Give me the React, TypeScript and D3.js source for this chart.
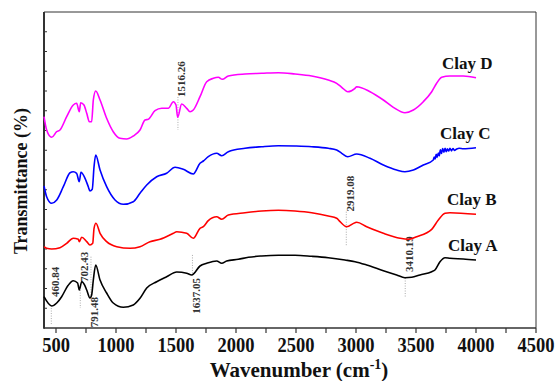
import * as d3 from "d3";

// FTIR spectra, [wavenumber, transmittance (offset, a.u.)]
const clayA: [number, number][] = [
  [400, 15.85], [464, 11.14], [506, 12.66], [547, 15.85], [600, 21.5], [644, 23.95],
  [680, 22.8], [694, 19.24], [714, 23.44], [740, 21.6], [756, 19.24], [783, 15.19],
  [797, 16.71], [811, 24.3], [831, 31.9], [867, 24.3], [922, 17.72], [977, 12.66],
  [1061, 10.48], [1144, 11.65], [1200, 15.04], [1256, 20.25], [1339, 23.44],
  [1422, 25.97], [1506, 28.35], [1589, 27.7], [1631, 26.84], [1700, 31.39],
  [1756, 32.76], [1839, 33.92], [1881, 32.76], [1922, 33.92], [2019, 34.78],
  [2103, 35.8], [2214, 36.46], [2353, 36.81], [2492, 36.81], [2631, 36.3],
  [2769, 35.59], [2908, 34.43], [2992, 33.57], [3089, 31.9], [3228, 29.01],
  [3339, 26.84], [3408, 25.47], [3464, 25.67], [3533, 26.84], [3631, 28.51],
  [3658, 29.37], [3700, 33.57], [3742, 35.59], [3783, 35.29], [3894, 34.94], [4000, 34.43],
];

const clayB: [number, number][] = [
  [400, 41.16], [422, 40.35], [464, 40.0], [533, 40.66], [589, 42.88], [644, 45.42],
  [686, 44.91], [694, 43.7], [714, 45.92], [756, 43.7], [783, 42.03], [806, 42.88],
  [817, 50.48], [833, 53.01], [867, 47.95], [922, 43.7], [1006, 41.16], [1117, 40.35],
  [1200, 41.16], [1283, 43.7], [1367, 44.91], [1478, 47.95], [1506, 48.76],
  [1589, 47.95], [1644, 45.42], [1700, 50.48], [1728, 51.29], [1769, 54.33],
  [1839, 56.35], [1881, 55.04], [1936, 57.21], [2075, 58.38], [2214, 59.24],
  [2353, 59.59], [2492, 59.24], [2631, 58.38], [2769, 56.71], [2839, 55.54],
  [2867, 53.82], [2922, 51.29], [2992, 53.32], [3006, 53.52], [3089, 51.29],
  [3228, 47.95], [3367, 45.42], [3436, 44.91], [3506, 46.23], [3631, 49.97],
  [3686, 54.68], [3742, 58.07], [3783, 58.38], [4000, 57.57],
];

const clayC: [number, number][] = [
  [400, 71.9], [422, 66.48], [464, 63.14], [506, 64.81], [561, 71.54], [617, 78.63],
  [644, 79.14], [672, 78.33], [694, 74.07], [708, 78.83], [742, 75.8], [769, 71.54],
  [783, 69.37], [802, 70.23], [817, 81.67], [831, 87.6], [867, 80.0], [922, 71.54],
  [992, 64.81], [1061, 62.63], [1144, 63.95], [1200, 68.2], [1256, 72.4], [1339, 76.61],
  [1422, 78.33], [1492, 81.37], [1561, 80.35], [1644, 77.97], [1700, 83.39],
  [1728, 84.56], [1769, 86.73], [1839, 88.45], [1881, 87.24], [1936, 89.27],
  [2075, 90.99], [2214, 91.8], [2353, 92.3], [2492, 92.15], [2631, 91.8], [2769, 90.99],
  [2839, 90.13], [2881, 88.45], [2931, 86.73], [3006, 88.1], [3117, 85.92],
  [3228, 82.53], [3339, 80.0], [3408, 79.14], [3478, 80.0], [3561, 82.53], [3644, 85.06],
  [3652, 86.6], [3660, 85.6], [3668, 87.9], [3676, 86.4], [3686, 88.6], [3694, 87.2],
  [3703, 90.2], [3712, 88.4], [3722, 90.8], [3732, 89.0], [3742, 91.0], [3752, 89.3],
  [3762, 90.7], [3772, 89.6], [3783, 91.0], [3795, 89.7], [3808, 90.9], [3820, 89.9],
  [3839, 90.6], [3860, 91.0], [3894, 90.79], [4000, 91.29],
];

const clayD: [number, number][] = [
  [400, 106.98], [422, 100.25], [464, 96.55], [506, 99.39], [533, 100.25], [589, 106.98],
  [644, 112.91], [672, 113.77], [694, 109.52], [706, 114.07], [733, 112.91], [756, 108.71],
  [778, 104.45], [797, 104.45], [811, 115.44], [831, 120.0], [867, 115.44], [922, 106.17],
  [977, 99.39], [1033, 96.05], [1089, 95.7], [1144, 97.22], [1200, 100.25], [1242, 105.32],
  [1269, 105.67], [1325, 110.02], [1381, 111.24], [1436, 111.24], [1478, 114.58],
  [1500, 112.91], [1514, 106.68], [1547, 113.42], [1589, 111.24], [1617, 109.52],
  [1644, 110.38], [1700, 117.11], [1756, 124.71], [1811, 126.43], [1853, 126.93],
  [1886, 125.92], [1936, 127.59], [2075, 128.61], [2214, 128.96], [2353, 129.27],
  [2492, 128.61], [2631, 127.59], [2769, 125.57], [2839, 123.9], [2881, 121.87],
  [2931, 119.64], [2992, 121.37], [3006, 122.18], [3117, 119.64], [3228, 115.44],
  [3311, 111.74], [3408, 109.01], [3478, 110.38], [3561, 114.58], [3631, 119.64],
  [3672, 123.9], [3714, 126.93], [3783, 127.59], [3894, 127.59], [4000, 126.73],
];

const seriesNames = ["Clay A", "Clay B", "Clay C", "Clay D"];
const xTicks = [500, 1000, 1500, 2000, 2500, 3000, 3500, 4000, 4500];

// peak labels: wavenumber, dotted line span (y units), where the label starts
const peakWn = [460.84, 702.43, 791.48, 1516.26, 1637.05, 2919.08, 3410.19];
const peakLine: [number, number][] = [
  [10.1, 1.5], [19.2, 10.1], [36.1, 15.8], [117.0, 100.3], [37.0, 27.8], [58.9, 41.2], [25.3, 15.2],
];
const peakLabelAt = [15.7, 23.3, 15.7, 117.0, 25.3, 59.0, 28.4];
const peakBelow = [false, false, true, false, true, false, false];

const W = 557;
const H = 381;
const FONT = "'Liberation Serif', 'Times New Roman', serif";

const seriesStyle = [
  { data: clayA, color: "#000000", dx: -28 },
  { data: clayB, color: "#ff0000", dx: -29 },
  { data: clayC, color: "#0000ff", dx: -36 },
  { data: clayD, color: "#ff00ff", dx: -34 },
];

export default function App() {
  const x = d3.scaleLinear().domain([400, 4500]).range([44, 536]);
  const y = d3.scaleLinear().domain([0, 160]).range([328, 12]);

  const line = d3
    .line<[number, number]>()
    .x((d) => x(d[0]))
    .y((d) => y(d[1]))
    .curve(d3.curveMonotoneX);

  const minorTicks = d3.range(500, 4501, 250);
  const leftTicks = d3.range(10, 160, 10);

  return (
    <svg
      width={W}
      height={H}
      style={{ position: "absolute", left: 0, top: 0, background: "#fff" }}
      fontFamily={FONT}
    >
      {/* frame */}
      <line x1={x(400)} x2={x(4500)} y1={y(160)} y2={y(160)} stroke="#333" strokeWidth={1} />
      <line x1={x(4500)} x2={x(4500)} y1={y(160)} y2={y(0)} stroke="#333" strokeWidth={1} />

      {/* left ticks (inward) */}
      {leftTicks.map((t) => (
        <line key={t} x1={x(400)} x2={x(400) + 3} y1={y(t)} y2={y(t)} stroke="#333" strokeWidth={1} />
      ))}

      {/* bottom ticks */}
      {minorTicks.map((t) => (
        <line key={t} x1={x(t)} x2={x(t)} y1={y(0)} y2={y(0) + 5} stroke="#333" strokeWidth={1.2} />
      ))}
      {xTicks.map((t) => (
        <text
          key={t}
          transform={`translate(${x(t)},352) scale(1,1.15)`}
          textAnchor="middle"
          fontSize={18.5}
          fontWeight="bold"
          fill="#111"
        >
          {t}
        </text>
      ))}

      <line x1={x(400)} x2={x(4500)} y1={y(0)} y2={y(0)} stroke="#333" strokeWidth={1.5} />
      <line x1={x(400)} x2={x(400)} y1={y(160)} y2={y(0) + 0.75} stroke="#333" strokeWidth={2} />

      {/* peak markers */}
      {peakWn.map((wn, i) => {
        const px = x(wn);
        const [a, b] = peakLine[i];
        const ly = y(peakLabelAt[i]);
        return (
          <g key={wn}>
            <line
              x1={px}
              x2={px}
              y1={y(a)}
              y2={y(b)}
              stroke="#aaa"
              strokeWidth={1}
              strokeDasharray="1,1.5"
            />
            <text
              transform={`translate(${px + 3.5},${ly}) rotate(-90)`}
              textAnchor={peakBelow[i] ? "end" : "start"}
              dominantBaseline="central"
              fontSize={11}
              fontWeight="bold"
              fill="#333"
            >
              {wn.toFixed(2)}
            </text>
          </g>
        );
      })}

      {/* spectra */}
      {seriesStyle.map((s, i) => (
        <path key={i} d={line(s.data) ?? ""} fill="none" stroke={s.color} strokeWidth={1.6} />
      ))}

      {/* series labels */}
      {seriesStyle.map((s, i) => {
        const last = s.data[s.data.length - 1];
        return (
          <text
            key={i}
            x={x(last[0]) + s.dx}
            y={y(last[1]) - 9}
            fontSize={17}
            fontWeight="bold"
            fill="#111"
          >
            {seriesNames[i]}
          </text>
        );
      })}

      {/* axis titles */}
      <text
        transform={`translate(27,181) rotate(-90)`}
        textAnchor="middle"
        fontSize={18}
        fontWeight="bold"
        fill="#111"
      >
        Transmittance (%)
      </text>
      <text x={299} y={377} textAnchor="middle" fontSize={21} fontWeight="bold" fill="#111">
        Wavenumber (cm
        <tspan fontSize={14} dy={-8}>-1</tspan>
        <tspan dy={8}>)</tspan>
      </text>
    </svg>
  );
}
